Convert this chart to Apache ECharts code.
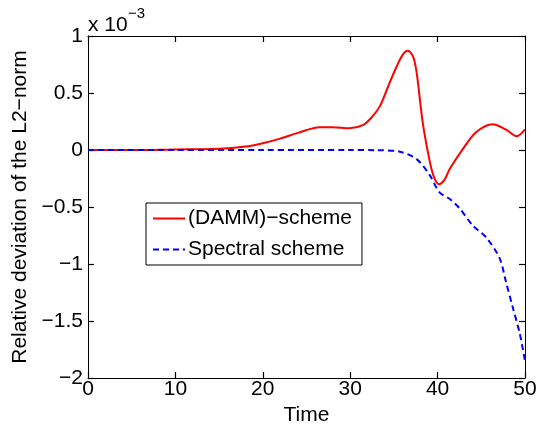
<!DOCTYPE html>
<html><head><meta charset="utf-8">
<script src="https://cdn.jsdelivr.net/npm/echarts@6/dist/echarts.min.js"></script>
<style>html,body{margin:0;padding:0;background:#fff}#c{width:543px;height:431px}</style>
</head><body><div id="c"></div>
<script>
const xTicks = [0, 10, 20, 30, 40, 50];
const yTickLabels = {"1":"1","0.5":"0.5","0":"0","-0.5":"\u22120.5","-1":"\u22121","-1.5":"\u22121.5","-2":"\u22122"};
const dammT = [0, 5, 10, 15, 18, 20, 22, 24, 26.5, 28, 29.9, 31.5, 32.5, 33.4, 34.3, 35.3, 36, 36.6, 37.2, 37.6, 38.3, 39.1, 39.6, 40.15, 40.8, 41.4, 42.9, 44.4, 46.3, 47.8, 49.06, 50];
const dammV = [0, 0, 0.005, 0.01, 0.03, 0.06, 0.1, 0.15, 0.2, 0.2, 0.19, 0.22, 0.29, 0.385, 0.55, 0.73, 0.835, 0.87, 0.82, 0.68, 0.24, -0.1, -0.24, -0.3, -0.26, -0.165, 0.01, 0.156, 0.226, 0.18, 0.12, 0.18];
const specT = [0, 10, 20, 30, 33, 35.7, 37.6, 39.1, 40.2, 41.4, 42.5, 44.0, 45.6, 47.1, 47.8, 48.6, 49.4, 50];
const specV = [0, 0, 0, 0, -0.002, -0.015, -0.08, -0.22, -0.37, -0.43, -0.51, -0.66, -0.77, -0.95, -1.15, -1.38, -1.61, -1.85];
const names = ["(DAMM)\u2212scheme", "Spectral scheme"];

const font = "'Liberation Sans', Arial, Helvetica, sans-serif";
const FS = 21;
const chart = echarts.init(document.getElementById('c'), null, {renderer:'canvas'});
const axLine = {show:true, onZero:false, lineStyle:{color:'#000', width:1}};
const tick = {show:true, inside:true, length:6, lineStyle:{color:'#000', width:1.2}};
chart.setOption({
  animation:false,
  backgroundColor:'#fff',
  grid:{left:88, right:18, top:36, bottom:50, containLabel:false},
  xAxis:[
    {type:'value', min:0, max:50, interval:10, position:'bottom', axisLine:axLine, axisTick:tick, splitLine:{show:false},
     axisLabel:{color:'#000', fontFamily:font, fontSize:FS, margin:1},
     name:'Time', nameLocation:'middle', nameGap:27, nameTextStyle:{color:'#000', fontFamily:font, fontSize:FS}},
    {type:'value', min:0, max:50, interval:10, position:'top', axisLine:axLine, axisTick:tick, splitLine:{show:false}, axisLabel:{show:false}}
  ],
  yAxis:[
    {type:'value', min:-2, max:1, interval:0.5, position:'left', axisLine:axLine, axisTick:tick, splitLine:{show:false},
     axisLabel:{color:'#000', fontFamily:font, fontSize:FS, margin:5, formatter:v=>yTickLabels[String(v)]},
     name:'Relative deviation of the L2\u2212norm', nameLocation:'middle', nameGap:53, nameRotate:90,
     nameTextStyle:{color:'#000', fontFamily:font, fontSize:FS}},
    {type:'value', min:-2, max:1, interval:0.5, position:'right', axisLine:axLine, axisTick:tick, splitLine:{show:false}, axisLabel:{show:false}}
  ],
  legend:{
    orient:'vertical', left:146, top:203,
    backgroundColor:'#fff', borderColor:'#000', borderWidth:1, borderRadius:0,
    padding:[5, 10, 5, 6], itemWidth:32, itemHeight:14, itemGap:10,
    itemStyle:{opacity:0},
    textStyle:{color:'#000', fontFamily:font, fontSize:FS, padding:[0,0,0,-2]},
    data:names
  },
  graphic:[
    {type:'text', left:88, top:15, style:{text:'x 10', font:FS+'px '+font, fill:'#000'}},
    {type:'text', left:128, top:6, style:{text:'\u22123', font:'15px '+font, fill:'#000'}}
  ],
  series:[
    {name:names[0], type:'line', data:dammT.map((t,i)=>[t, dammV[i]]), smooth:0.3, symbol:'none',
     lineStyle:{color:'#ff0000', width:2}, itemStyle:{color:'#ff0000'}},
    {name:names[1], type:'line', data:specT.map((t,i)=>[t, specV[i]]), smooth:0.3, symbol:'none',
     lineStyle:{color:'#0000ff', width:2, type:[6,4]}, itemStyle:{color:'#0000ff'}}
  ]
});
</script></body></html>
